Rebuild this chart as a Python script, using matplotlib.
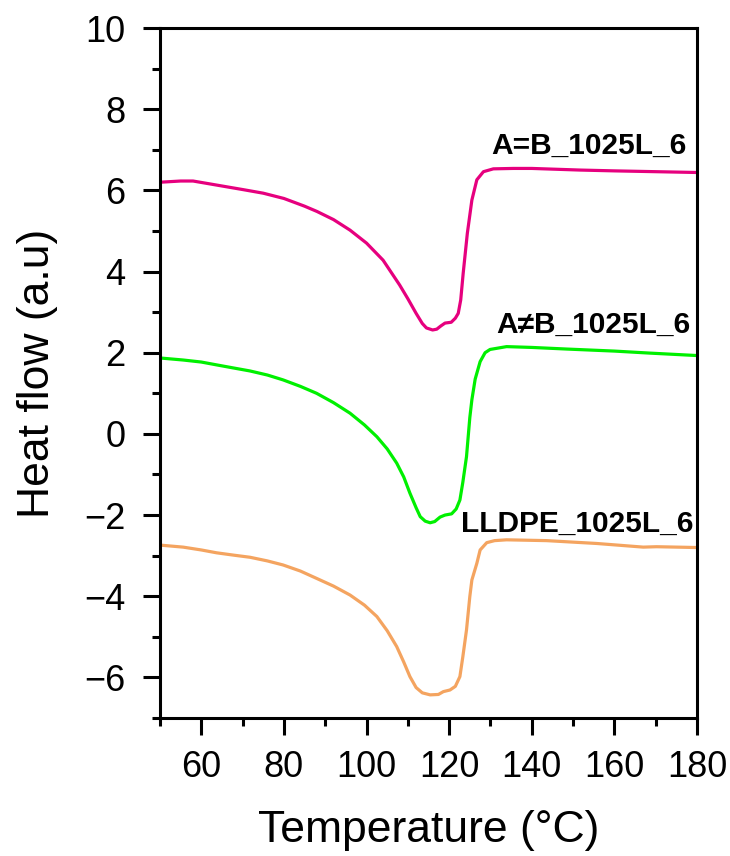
import matplotlib
matplotlib.use("Agg")
import matplotlib.pyplot as plt
from matplotlib.ticker import FixedLocator

plt.rcParams['font.family'] = ['Liberation Sans', 'DejaVu Sans']

# DSC heating traces (temperature in °C, heat flow in a.u.)
temp_ab = [50, 55, 58, 62, 66, 70, 75, 80, 85, 88, 92, 96, 100, 104, 108, 110,
           112, 113.5, 114.5, 116, 117, 118, 119, 120.5, 121.5, 122.2, 122.8,
           123.4, 124.4, 125.5, 126.7, 128.3, 130.7, 135.5, 140, 151.7, 160,
           170, 180]
flow_ab = [6.20, 6.23, 6.23, 6.16, 6.09, 6.02, 5.93, 5.80, 5.61, 5.48, 5.28,
           5.02, 4.70, 4.28, 3.67, 3.33, 2.97, 2.72, 2.61, 2.56, 2.58, 2.66,
           2.73, 2.75, 2.85, 2.97, 3.30, 3.96, 4.94, 5.76, 6.26, 6.46, 6.53,
           6.54, 6.54, 6.50, 6.48, 6.46, 6.44]

temp_anb = [50, 55.6, 60, 63.7, 68, 71.8, 76, 79.8, 84, 87.9, 92, 96, 99.5,
            102.5, 105, 107.3, 109, 110.5, 112, 113, 114.2, 115.4, 116.5,
            117.8, 119, 120.6, 121.7, 122.6, 123.3, 124.2, 125.0, 125.5,
            126.3, 127.5, 128.7, 129.9, 133.9, 140, 148.5, 160, 168.6, 180]
flow_anb = [1.87, 1.82, 1.77, 1.70, 1.62, 1.55, 1.45, 1.33, 1.17, 1.00, 0.77,
            0.51, 0.22, -0.07, -0.37, -0.72, -1.06, -1.46, -1.82, -2.04,
            -2.15, -2.19, -2.16, -2.05, -2.00, -1.97, -1.85, -1.63, -1.20,
            -0.56, 0.40, 0.84, 1.35, 1.78, 2.00, 2.08, 2.15, 2.13, 2.09, 2.04,
            1.99, 1.93]

temp_lldpe = [50, 55.6, 60, 63.7, 68, 71.8, 76, 79.8, 84, 87.9, 92, 96, 99.5,
              102.5, 105, 107.3, 109, 110.5, 112, 113.5, 115.4, 117.4, 118.6,
              120.2, 121.5, 122.6, 123.3, 124.2, 125.0, 125.5, 126.7, 127.5,
              129.1, 131, 133.9, 143.6, 155.7, 162, 167, 170.2, 180]
flow_lldpe = [-2.74, -2.79, -2.86, -2.93, -2.99, -3.04, -3.13, -3.23, -3.38,
              -3.56, -3.75, -3.97, -4.22, -4.50, -4.85, -5.24, -5.62, -5.98,
              -6.25, -6.38, -6.43, -6.42, -6.35, -6.31, -6.22, -5.98, -5.50,
              -4.83, -4.01, -3.60, -3.19, -2.86, -2.68, -2.63, -2.61, -2.63,
              -2.70, -2.75, -2.79, -2.78, -2.80]

series_names = ["A=B_1025L_6", "A\u2260B_1025L_6", "LLDPE_1025L_6"]
series_colors = ["#E6007E", "#00F000", "#F4A460"]
label_pos = [(177.4, 6.91), (178.5, 2.49), (179.1, -2.41)]

x_major = [60, 80, 100, 120, 140, 160, 180]
x_minor = [50, 70, 90, 110, 130, 150, 170]
y_major = [-6, -4, -2, 0, 2, 4, 6, 8, 10]
y_minor = [-7, -5, -3, -1, 1, 3, 5, 7, 9]

fig = plt.figure(figsize=(7.30, 8.56), dpi=100)
ax = fig.add_axes([160 / 730, 1 - 718 / 856, 537 / 730, 690 / 856])

traces = [(temp_ab, flow_ab), (temp_anb, flow_anb), (temp_lldpe, flow_lldpe)]
for (t, f), color in zip(traces, series_colors):
    ax.plot(t, f, color=color, lw=2.3, solid_joinstyle='round')

for name, (tx, ty) in zip(series_names, label_pos):
    ax.text(tx, ty, name, ha='right', va='baseline', fontsize=21.5,
            fontweight='bold', color='black')

ax.set_xlim(50, 180)
ax.set_ylim(-7, 10)
ax.xaxis.set_major_locator(FixedLocator(x_major))
ax.xaxis.set_minor_locator(FixedLocator(x_minor))
ax.yaxis.set_major_locator(FixedLocator(y_major))
ax.yaxis.set_minor_locator(FixedLocator(y_minor))

for s in ax.spines.values():
    s.set_linewidth(2.2)

ax.tick_params(which='major', direction='out', length=12, width=2.2,
               labelsize=26, top=False, right=False)
ax.tick_params(which='minor', direction='out', length=6, width=2.2,
               top=False, right=False)
ax.tick_params(axis='y', which='major', pad=13)
ax.tick_params(axis='x', which='major', pad=11)

ax.set_xlabel("Temperature (\u00b0C)", fontsize=32, labelpad=18)
ax.set_ylabel("Heat flow (a.u)", fontsize=32, labelpad=19)

fig.savefig("out.png", dpi=100)
